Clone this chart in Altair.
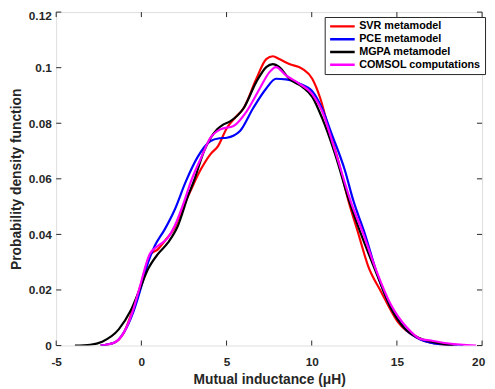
import altair as alt
import pandas as pd

# ---- data ----
svr_x = [-2.4, -1.6, -1.0, -0.5, 0.0, 0.5, 0.98, 1.37, 1.95, 2.52, 2.9, 3.5, 4.06, 4.5, 5.02, 5.5,
         6.0, 6.75, 7.33, 7.72, 8.1, 8.68, 9.45, 10.03, 10.5, 11.0, 11.56, 12.14, 12.72, 13.3,
         14.07, 15.03, 16.18, 17.53, 18.5]
svr_y = [0.0, 0.001, 0.005, 0.013, 0.0225, 0.0325, 0.0347, 0.0376, 0.0424, 0.0508, 0.0559, 0.0635,
         0.0689, 0.0718, 0.0783, 0.082, 0.0854, 0.096, 0.1031, 0.1041, 0.1031, 0.1013, 0.0996,
         0.096, 0.089, 0.078, 0.0665, 0.0524, 0.0406, 0.0288, 0.0194, 0.0087, 0.0028, 0.0005, 0.0]

pce_x = [-2.4, -1.6, -1.04, -0.46, 0.02, 0.4, 0.79, 1.37, 1.95, 2.6, 3.29, 4.06, 4.6, 5.02, 5.4,
         5.79, 6.56, 7.33, 7.9, 8.49, 9.26, 10.03, 10.6, 11.18, 11.95, 12.43, 13.1, 13.87, 14.65,
         15.42, 16.38, 17.53, 18.9]
pce_y = [0.0, 0.001, 0.0046, 0.0123, 0.0217, 0.030, 0.0359, 0.0418, 0.0488, 0.0589, 0.0677, 0.0736,
         0.0746, 0.0748, 0.0755, 0.0772, 0.0854, 0.0925, 0.096, 0.0958, 0.0943, 0.0915, 0.0854,
         0.076, 0.063, 0.0524, 0.0406, 0.0252, 0.0135, 0.0064, 0.0022, 0.0005, 0.0]

mgpa_x = [-3.9, -3.0, -2.3, -1.33, -0.65, -0.08, 0.4, 0.98, 1.56, 2.14, 2.75, 3.1, 3.68, 4.45, 4.8,
          5.21, 6.0, 6.75, 7.33, 7.72, 8.1, 8.68, 9.45, 10.03, 10.6, 11.37, 12.24, 12.9, 13.8,
          14.65, 15.42, 16.38, 17.3, 18.3]
mgpa_y = [0.0, 0.0003, 0.0014, 0.0058, 0.0123, 0.0205, 0.0276, 0.033, 0.037, 0.043, 0.054, 0.0595,
          0.070, 0.0778, 0.0795, 0.0807, 0.0854, 0.0949, 0.1002, 0.1013, 0.1002, 0.096, 0.0931,
          0.0895, 0.082, 0.0689, 0.0512, 0.040, 0.026, 0.0135, 0.0064, 0.0025, 0.001, 0.0]

comsol_x = [-2.4, -1.6, -1.0, -0.5, -0.17, 0.5, 0.98, 1.56, 1.95, 2.52, 2.9, 3.5, 4.06, 4.64, 5.41,
            6.18, 6.95, 7.52, 7.9, 8.49, 9.26, 10.03, 10.6, 11.37, 12.34, 13.0, 13.68, 14.65,
            15.6, 16.38, 17.0, 17.7, 18.7, 19.65]
comsol_y = [0.0, 0.001, 0.005, 0.0125, 0.0194, 0.033, 0.0359, 0.0388, 0.043, 0.052, 0.0589, 0.0675,
            0.0748, 0.0778, 0.079, 0.0843, 0.0925, 0.0984, 0.1002, 0.0972, 0.0943, 0.0905, 0.0845,
            0.0701, 0.051, 0.0406, 0.0288, 0.0147, 0.0064, 0.0024, 0.0018, 0.001, 0.0003, 0.0]

series_names = ["SVR metamodel", "PCE metamodel", "MGPA metamodel", "COMSOL computations"]
series_colors = ["#ff0000", "#0000ff", "#000000", "#ff00ff"]
x_ticks = [-5, 0, 5, 10, 15, 20]
y_ticks = [0, 0.02, 0.04, 0.06, 0.08, 0.1, 0.12]

rows = []
for name, xs, ys in zip(series_names,
                        [svr_x, pce_x, mgpa_x, comsol_x],
                        [svr_y, pce_y, mgpa_y, comsol_y]):
    for xv, yv in zip(xs, ys):
        rows.append({"series": name, "x": xv, "y": yv})
df = pd.DataFrame(rows)
df["order"] = df["series"].map({n: i for i, n in enumerate(series_names)})

FONT = "Liberation Sans"
TXT = "#262626"

xscale = alt.Scale(domain=[-5, 20], nice=False, zero=False)
yscale = alt.Scale(domain=[0, 0.12], nice=False)

lines = alt.Chart(df).mark_line(strokeWidth=2.2, interpolate="monotone", clip=True).encode(
    x=alt.X("x:Q", scale=xscale,
            axis=alt.Axis(title="Mutual inductance (μH)", values=x_ticks, labelExpr="'' + datum.value",
                          ticks=False, domain=False, grid=False, labelPadding=11, labelFlush=False,
                          labelOffset={"condition": {"test": "datum.value >= 19.9", "value": -4}, "value": 0},
                          labelFont=FONT, labelFontSize=12, labelFontWeight="bold", labelColor=TXT,
                          titleFont=FONT, titleFontSize=14, titleFontWeight="bold", titleColor=TXT,
                          titlePadding=6)),
    y=alt.Y("y:Q", scale=yscale,
            axis=alt.Axis(title="Probability density function", values=y_ticks, format="~g",
                          ticks=False, domain=False, grid=False, labelPadding=5,
                          labelOffset={"condition": {"test": "datum.value >= 0.119", "value": 4}, "value": 0},
                          labelFont=FONT, labelFontSize=12, labelFontWeight="bold", labelColor=TXT,
                          titleFont=FONT, titleFontSize=14, titleFontWeight="bold", titleColor=TXT,
                          titlePadding=5)),
    color=alt.Color("series:N", scale=alt.Scale(domain=series_names, range=series_colors),
                    legend=alt.Legend(orient="none", legendX=273, legendY=5, title=None,
                                      strokeColor=TXT, fillColor="white", padding=4,
                                      symbolType="stroke", symbolSize=625, symbolStrokeWidth=2.5,
                                      clipHeight=11,
                                      labelFont=FONT, labelFontSize=11, labelFontWeight="bold",
                                      labelColor="black", labelOffset=3, rowPadding=1)),
    order=alt.Order("order:Q"),
)

xt = pd.DataFrame({"t": x_ticks})
yt = pd.DataFrame({"t": y_ticks})
tick_style = dict(color=TXT, strokeWidth=1)
bx = alt.Chart(xt).mark_rule(**tick_style).encode(x=alt.X("t:Q", scale=xscale), y=alt.datum(0), y2=alt.datum(0.0018))
tx = alt.Chart(xt).mark_rule(**tick_style).encode(x=alt.X("t:Q", scale=xscale), y=alt.datum(0.12), y2=alt.datum(0.1182))
ly = alt.Chart(yt).mark_rule(**tick_style).encode(y=alt.Y("t:Q", scale=yscale), x=alt.datum(-5), x2=alt.datum(-4.7))
ry = alt.Chart(yt).mark_rule(**tick_style).encode(y=alt.Y("t:Q", scale=yscale), x=alt.datum(20), x2=alt.datum(19.7))

chart = alt.layer(lines, bx, tx, ly, ry).properties(
    width=433, height=339,
    padding={"left": 49, "top": 1, "right": 5, "bottom": 40},
    autosize=alt.AutoSizeParams(type="none"),
).configure_view(stroke=TXT, strokeWidth=1).configure(background="white")

chart.save("out.html", embed_options={"renderer": "svg", "actions": False})
